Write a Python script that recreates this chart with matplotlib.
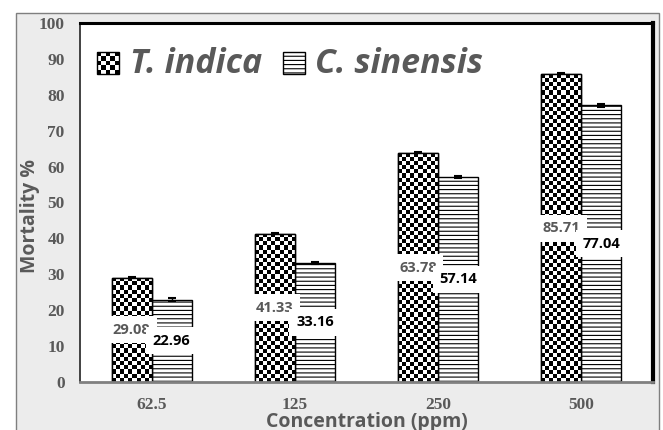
import numpy as np
import matplotlib
matplotlib.use("Agg")
import matplotlib.pyplot as plt
from matplotlib.patches import Rectangle

# Data
concentrations = ["62.5", "125", "250", "500"]
t_indica = [29.08, 41.33, 63.78, 85.71]
c_sinensis = [22.96, 33.16, 57.14, 77.04]
t_indica_err = [0.3, 0.3, 0.3, 0.3]
c_sinensis_err = [0.3, 0.3, 0.3, 0.3]
series_names = ["T. indica", "C. sinensis"]

GRAY = "#595959"
SANS = ["Open Sans", "DejaVu Sans"]
SERIF = ["Liberation Serif", "DejaVu Serif"]

plt.rcParams["hatch.linewidth"] = 0.8
plt.rcParams["hatch.color"] = "black"

fig = plt.figure(figsize=(6.63, 4.30), dpi=100)
W, H = 663, 430

# light gray panel behind the chart
panel = Rectangle((16 / W, -0.01), (659 - 16) / W, (430 - 13) / H + 0.01,
                  transform=fig.transFigure, facecolor="#ececec",
                  edgecolor="#7f7f7f", lw=1.0, zorder=-10)
fig.patches.append(panel)

ax = fig.add_axes([80 / W, (H - 382) / H, (653 - 80) / W, (382 - 23) / H])
ax.set_zorder(5)
ax.set_facecolor("white")

x = np.arange(len(concentrations))
bw = 0.28

bars_t = ax.bar(x - bw / 2, t_indica, bw, facecolor="white", edgecolor="black",
                lw=1.0, zorder=2, yerr=t_indica_err,
                error_kw=dict(ecolor="black", capsize=3, elinewidth=1, capthick=1.5))
bars_c = ax.bar(x + bw / 2, c_sinensis, bw, facecolor="white", edgecolor="black",
                lw=1.0, hatch="----", zorder=2, yerr=c_sinensis_err,
                error_kw=dict(ecolor="black", capsize=3, elinewidth=1, capthick=1.5))

ax.set_xlim(-0.5, len(concentrations) - 0.5)
ax.set_ylim(0, 100)

# checkerboard fill for T. indica bars
fig.canvas.draw()
px_per_x = ax.get_window_extent().width / (ax.get_xlim()[1] - ax.get_xlim()[0])
px_per_y = ax.get_window_extent().height / 100.0
cell = 4.1
for b in bars_t:
    x0, w, h = b.get_x(), b.get_width(), b.get_height()
    nx = max(1, int(round(w * px_per_x / cell)))
    ny = max(1, int(round(h * px_per_y / cell)))
    board = (np.indices((ny, nx)).sum(axis=0) % 2).astype(float)
    im = ax.imshow(board, cmap="gray", vmin=0, vmax=1, extent=[x0, x0 + w, 0, h],
                   aspect="auto", interpolation="nearest", zorder=2.1)
    im.set_clip_path(b)
    ax.add_patch(Rectangle((x0, 0), w, h, facecolor="none", edgecolor="black",
                           lw=1.0, zorder=2.2))

ax.set_xlim(-0.5, len(concentrations) - 0.5)
ax.set_ylim(0, 100)

# value labels at bar centres
for b, v in zip(bars_t, t_indica):
    ax.text(b.get_x() + b.get_width() / 2, v / 2, f"{v:.2f}", ha="center", va="center",
            fontsize=10.5, fontweight="bold", color=GRAY, family=SANS, zorder=5,
            bbox=dict(boxstyle="square,pad=0.45", facecolor="white", edgecolor="none"))
for b, v in zip(bars_c, c_sinensis):
    ax.text(b.get_x() + b.get_width() / 2, v / 2, f"{v:.2f}", ha="center", va="center",
            fontsize=10.5, fontweight="bold", color="black", family=SANS, zorder=6,
            bbox=dict(boxstyle="square,pad=0.45", facecolor="white", edgecolor="none"))

# axes styling
ax.set_xticks(x)
ax.set_xticklabels(concentrations)
ax.set_yticks(np.arange(0, 101, 10))
ax.tick_params(length=0)
ax.tick_params(axis="y", pad=11)
ax.tick_params(axis="x", pad=11)
for lab in ax.get_xticklabels() + ax.get_yticklabels():
    lab.set_family(SERIF)
    lab.set_fontweight("bold")
    lab.set_fontsize(12.5)
    lab.set_color(GRAY)

ax.spines["top"].set_linewidth(2.2)
ax.spines["top"].set_color("black")
ax.spines["right"].set_linewidth(3)
ax.spines["right"].set_color("black")
ax.spines["left"].set_linewidth(1.3)
ax.spines["left"].set_color("#333333")
ax.spines["bottom"].set_linewidth(2)
ax.spines["bottom"].set_color("#808080")

fig.text(30 / W, 1 - 216 / H, "Mortality %", rotation=90, ha="center", va="center",
         fontsize=14, fontweight="bold", color=GRAY, family=SANS)
fig.text(367 / W, 1 - 422 / H, "Concentration (ppm)", ha="center", va="center",
         fontsize=14, fontweight="bold", color=GRAY, family=SANS)

# legend drawn in axes coordinates
def fx(px):
    return (px - 80) / 573.0

def fy(py):
    return (382 - py) / 359.0

# checkerboard key
n = 5
k0x, k0y, ks = 97, 52, 22
for i in range(n):
    for j in range(n):
        if (i + j) % 2 == 0:
            ax.add_patch(Rectangle((fx(k0x + i * ks / n), fy(k0y + (j + 1) * ks / n)),
                                   (ks / n) / 573.0, (ks / n) / 359.0,
                                   transform=ax.transAxes, facecolor="black",
                                   edgecolor="none", zorder=7))
ax.add_patch(Rectangle((fx(k0x), fy(k0y + ks)), ks / 573.0, ks / 359.0,
                       transform=ax.transAxes, facecolor="none", edgecolor="black",
                       lw=1.0, zorder=8))
# striped key
ax.add_patch(Rectangle((fx(283), fy(52 + 22)), 22 / 573.0, 22 / 359.0,
                       transform=ax.transAxes, facecolor="white", edgecolor="black",
                       hatch="----", lw=1.0, zorder=8))

ax.text(fx(130), fy(73), series_names[0], transform=ax.transAxes, ha="left",
        va="baseline", fontsize=24.5, fontweight="bold", fontstyle="italic",
        color=GRAY, family=SANS, zorder=8)
ax.text(fx(315), fy(73), series_names[1], transform=ax.transAxes, ha="left",
        va="baseline", fontsize=24.5, fontweight="bold", fontstyle="italic",
        color=GRAY, family=SANS, zorder=8)

fig.savefig("out.png", dpi=100, facecolor="white")
